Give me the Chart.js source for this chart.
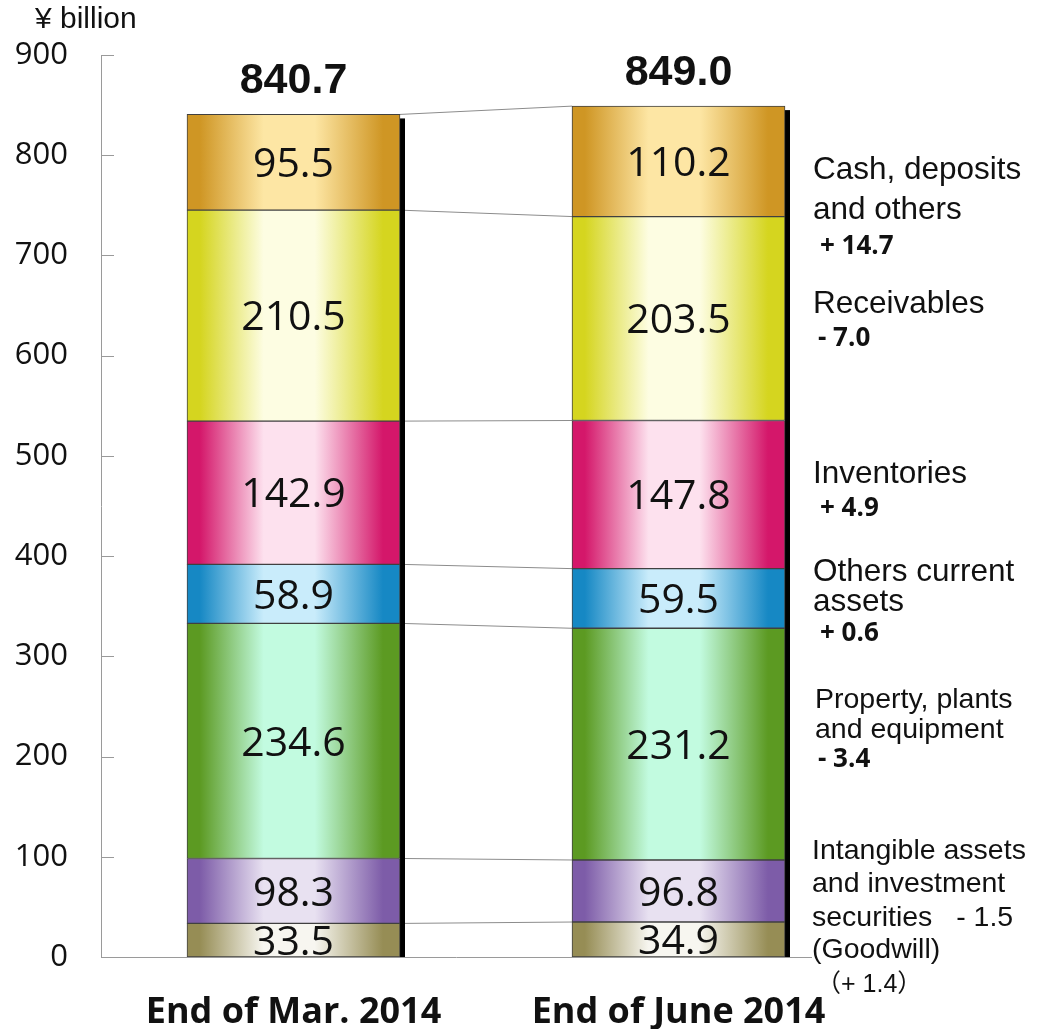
<!DOCTYPE html>
<html>
<head>
<meta charset="utf-8">
<script src="https://cdn.jsdelivr.net/npm/chart.js@4.4.1/dist/chart.umd.min.js"></script>
<style>
  html, body { margin: 0; padding: 0; background: #ffffff; }
  #wrap { width: 1037px; height: 1029px; position: relative; }
</style>
</head>
<body>
<div id="wrap"><canvas id="chart" width="1037" height="1029"></canvas></div>
<script>
// Consolidated assets, ¥ billion
const categories = ['End of Mar. 2014', 'End of June 2014'];
const goodwill = [33.5, 34.9];
const intangibleAndSecurities = [98.3, 96.8];   // includes goodwill
const propertyPlantEquipment = [234.6, 231.2];
const otherCurrentAssets = [58.9, 59.5];
const inventories = [142.9, 147.8];
const receivables = [210.5, 203.5];
const cashDeposits = [95.5, 110.2];
const totals = [840.7, 849.0];
const yTickValues = [0, 100, 200, 300, 400, 500, 600, 700, 800, 900];

// Change notes shown to the right of the second bar
const noteLines = [
  { text: 'Cash, deposits', x: 813, y: 170, kind: 'big' },
  { text: 'and others', x: 813, y: 210, kind: 'big' },
  { text: '+ 14.7', x: 820, y: 247, kind: 'num' },
  { text: 'Receivables', x: 813, y: 304, kind: 'big' },
  { text: '- 7.0', x: 818, y: 339, kind: 'num' },
  { text: 'Inventories', x: 813, y: 474, kind: 'big' },
  { text: '+ 4.9', x: 820, y: 509, kind: 'num' },
  { text: 'Others current', x: 813, y: 572, kind: 'big' },
  { text: 'assets', x: 813, y: 602, kind: 'big' },
  { text: '+ 0.6', x: 820, y: 634, kind: 'num' },
  { text: 'Property, plants', x: 815, y: 700, kind: 'mid' },
  { text: 'and equipment', x: 815, y: 730, kind: 'mid' },
  { text: '- 3.4', x: 818, y: 760, kind: 'num' },
  { text: 'Intangible assets', x: 812, y: 851, kind: 'mid' },
  { text: 'and investment', x: 812, y: 884, kind: 'mid' },
  { text: 'securities   - 1.5', x: 812, y: 918, kind: 'mid' },
  { text: '(Goodwill)', x: 812, y: 950, kind: 'mid' },
  { text: '（+ 1.4）', x: 816, y: 985, kind: 'small' }
];
const noteFonts = {
  big: '31.5px "Liberation Sans", Arial, sans-serif',
  mid: '28.5px "Liberation Sans", Arial, sans-serif',
  num: 'bold 26px "Open Sans", sans-serif',
  small: '25px "Liberation Sans", "Noto Sans CJK JP", sans-serif'
};

// Segment styles, bottom to top: edge colour and centre colour of the gradient
const segments = [
  { name: 'Goodwill', values: goodwill, edge: '#968d55', light: '#f7f6f0' },
  { name: 'Intangible assets and investment securities', values: intangibleAndSecurities, edge: '#7d5ca8', light: '#e8e1f1' },
  { name: 'Property, plants and equipment', values: propertyPlantEquipment, edge: '#5c9a22', light: '#c2fbe0' },
  { name: 'Others current assets', values: otherCurrentAssets, edge: '#1688c4', light: '#c9ecfb' },
  { name: 'Inventories', values: inventories, edge: '#d4176a', light: '#fde1ee' },
  { name: 'Receivables', values: receivables, edge: '#d5d51f', light: '#fdfde2' },
  { name: 'Cash, deposits and others', values: cashDeposits, edge: '#cf9624', light: '#fde6a4' }
];

// Floating ranges: goodwill sits inside the intangible block, the rest stack on top
function buildRanges() {
  return segments.map((seg, si) => seg.values.map((v, i) => {
    if (si === 0) return [0, v];
    if (si === 1) return [goodwill[i], v];
    let base = intangibleAndSecurities[i];
    for (let k = 2; k < si; k++) base += segments[k].values[i];
    return [base, base + v];
  }));
}
const ranges = buildRanges();

const BAR_W = 213;

function gradientFill(seg) {
  return (ctx) => {
    const chart = ctx.chart;
    if (!chart.chartArea) return seg.edge;
    const cx = chart.scales.x.getPixelForValue(ctx.dataIndex);
    const g = chart.ctx.createLinearGradient(cx - BAR_W / 2, 0, cx + BAR_W / 2, 0);
    g.addColorStop(0, seg.edge);
    g.addColorStop(0.06, seg.edge);
    g.addColorStop(0.36, seg.light);
    g.addColorStop(0.6, seg.light);
    g.addColorStop(0.92, seg.edge);
    g.addColorStop(1, seg.edge);
    return g;
  };
}

const decorations = {
  id: 'decorations',
  beforeDatasetsDraw(chart) {
    const { ctx, chartArea } = chart;
    const y = chart.scales.y;
    ctx.save();
    // inward tick marks
    ctx.strokeStyle = '#9a9a9a';
    ctx.lineWidth = 1;
    yTickValues.forEach(v => {
      const py = Math.round(y.getPixelForValue(v)) + 0.5;
      ctx.beginPath();
      ctx.moveTo(chartArea.left, py);
      ctx.lineTo(chartArea.left + 13, py);
      ctx.stroke();
    });
    // connector lines between matching boundaries of the two bars
    ctx.strokeStyle = '#8c8c8c';
    segments.forEach((seg, si) => {
      const e0 = chart.getDatasetMeta(si).data[0];
      const e1 = chart.getDatasetMeta(si).data[1];
      ctx.beginPath();
      ctx.moveTo(e0.x + e0.width / 2, e0.y);
      ctx.lineTo(e1.x - e1.width / 2, e1.y);
      ctx.stroke();
    });
    // dark shadow strip on the right of each bar
    ctx.fillStyle = '#000000';
    categories.forEach((c, i) => {
      const top = chart.getDatasetMeta(segments.length - 1).data[i];
      const right = top.x + top.width / 2;
      ctx.fillRect(right, top.y + 4, 5, y.getPixelForValue(0) - top.y - 4);
    });
    ctx.restore();
  },
  afterDatasetsDraw(chart) {
    const { ctx, chartArea } = chart;
    const y = chart.scales.y;
    ctx.save();
    // segment values
    ctx.fillStyle = '#111111';
    ctx.textAlign = 'center';
    ctx.textBaseline = 'middle';
    ctx.font = '41px "Open Sans", sans-serif';
    segments.forEach((seg, si) => {
      chart.getDatasetMeta(si).data.forEach((el, i) => {
        const val = seg.values[i];
        ctx.fillText(val.toFixed(1), el.x, (el.y + el.base) / 2 + 3);
      });
    });
    // totals above the bars
    ctx.font = 'bold 43px "Liberation Sans", Arial, sans-serif';
    ctx.textBaseline = 'alphabetic';
    const topMeta = chart.getDatasetMeta(segments.length - 1);
    totals.forEach((t, i) => {
      const el = topMeta.data[i];
      ctx.fillText(t.toFixed(1), el.x, y.getPixelForValue(t) - 21);
    });
    // baseline
    ctx.strokeStyle = '#9a9a9a';
    ctx.lineWidth = 1;
    const by = Math.round(y.getPixelForValue(0)) + 0.5;
    ctx.beginPath();
    ctx.moveTo(chartArea.left, by);
    ctx.lineTo(812, by);
    ctx.stroke();
    // unit label
    ctx.textAlign = 'left';
    ctx.textBaseline = 'middle';
    ctx.font = '30px "Liberation Sans", Arial, sans-serif';
    ctx.fillText('¥ billion', 35, 20);
    // change notes
    noteLines.forEach(n => {
      ctx.font = noteFonts[n.kind];
      ctx.fillText(n.text, n.x, n.y);
    });
    ctx.restore();
  }
};

new Chart(document.getElementById('chart'), {
  type: 'bar',
  data: {
    labels: categories,
    datasets: segments.map((seg, si) => ({
      label: seg.name,
      data: ranges[si],
      grouped: false,
      barThickness: BAR_W,
      backgroundColor: gradientFill(seg),
      borderColor: '#404040',
      borderWidth: 1,
      borderSkipped: false
    }))
  },
  options: {
    responsive: false,
    animation: false,
    events: [],
    layout: { padding: { top: 55, right: 166, bottom: 0, left: 0 } },
    plugins: { legend: { display: false }, tooltip: { enabled: false }, title: { display: false } },
    scales: {
      x: {
        grid: { display: false, drawTicks: false },
        border: { display: false },
        ticks: {
          color: '#111111',
          padding: 34,
          font: { family: '"Open Sans", sans-serif', size: 36, weight: 'bold' }
        },
        afterFit(scale) { scale.height = 72; }
      },
      y: {
        min: 0,
        max: 900,
        grid: { display: false, drawTicks: false },
        border: { display: true, color: '#9a9a9a', width: 1 },
        afterBuildTicks(scale) { scale.ticks = yTickValues.map(v => ({ value: v })); },
        ticks: {
          color: '#111111',
          padding: 33,
          font: { family: '"Open Sans", sans-serif', size: 31 }
        },
        afterFit(scale) { scale.width = 101; }
      }
    }
  },
  plugins: [decorations]
});
</script>
</body>
</html>
